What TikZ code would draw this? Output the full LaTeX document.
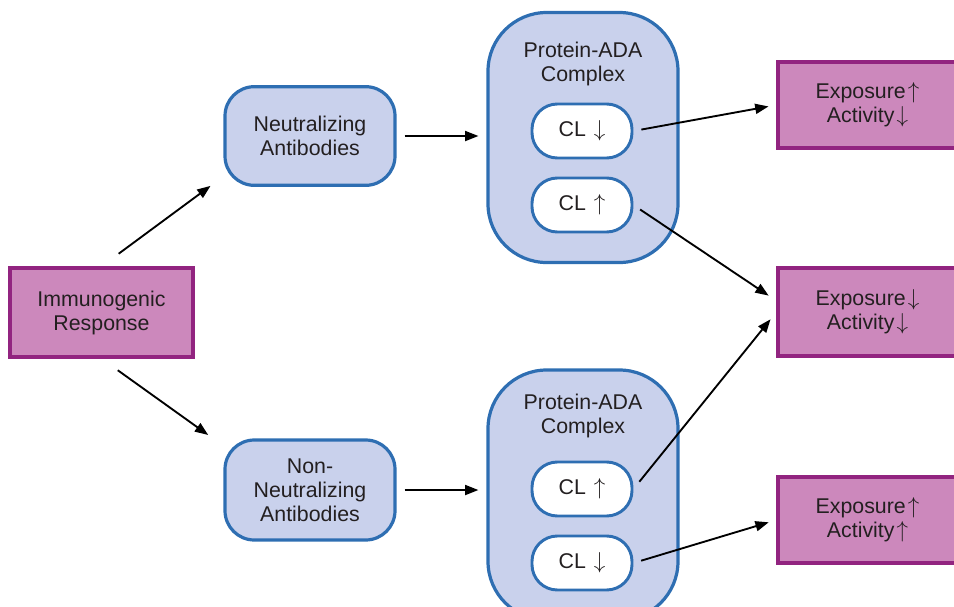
\documentclass[tikz,border=0pt]{standalone}
\usepackage{fontspec}
\setmainfont{Liberation Sans}
\usetikzlibrary{arrows.meta}

\definecolor{pinkfill}{RGB}{204,136,188}
\definecolor{pinkline}{RGB}{146,36,128}
\definecolor{bluefill}{RGB}{201,209,236}
\definecolor{blueline}{RGB}{46,110,178}
\definecolor{txtgray}{RGB}{35,31,32}

\newcommand{\upar}{\kern1.5pt$\uparrow$}
\newcommand{\dnar}{\kern1.5pt$\downarrow$}

\tikzset{every picture/.style={line width=0.75pt}}

\begin{document}
\begin{tikzpicture}[x=0.75pt,y=0.75pt,yscale=-1,xscale=1,
	txt/.style={text=txtgray,font=\fontsize{16}{18}\selectfont,align=center},
	pinkbox/.style={txt,draw=pinkline,fill=pinkfill,line width=2.4pt,inner sep=0pt},
	abbox/.style={txt,draw=blueline,fill=bluefill,line width=2.4pt,rounded corners=22pt,
		minimum width=127.5pt,minimum height=74pt,inner sep=0pt},
	cxbox/.style={draw=blueline,fill=bluefill,line width=2.4pt,rounded corners=44pt,
		minimum width=142.5pt,minimum height=187.5pt},
	clpill/.style={txt,draw=blueline,fill=white,line width=2.2pt,rounded corners=19pt,
		minimum width=75pt,minimum height=40.5pt,inner sep=0pt},
	arr/.style={draw=black,line width=1.4pt,-{Triangle[length=10pt,width=7.5pt]}}]
	\useasboundingbox (0,0) rectangle (954,607);
	\clip (0,0) rectangle (954,607);
	
	%Shape: Rectangle [immune]
	\node[pinkbox,minimum width=137.25pt,minimum height=66.75pt] (immune) at (101.5,312.5) {Immunogenic\\Response};
	%Shape: Rounded Rect [antibodies]
	\node[abbox] (neut) at (310,136) {Neutralizing\\Antibodies};
	\node[abbox,minimum height=75pt] (nonneut) at (310,490) {Non-\\Neutralizing\\Antibodies};
	
	%Shape: Rounded Rect [complexes]
	\node[cxbox] (topcx) at (583,137.5) {};
	\node[cxbox] (botcx) at (583,495) {};
	% Text Node
	\node[txt,anchor=north,inner sep=0pt] (topttl) at (583,42) {Protein-ADA\\Complex};
	% Text Node
	\node[txt,anchor=north,inner sep=0pt] (botttl) at (583,394) {Protein-ADA\\Complex};
	
	%Shape: Pills
	\node[clpill] (clA) at (582,131) {CL \dnar};
	\node[clpill] (clB) at (582,205) {CL \upar};
	\node[clpill] (clC) at (582,489) {CL \upar};
	\node[clpill] (clD) at (582,563) {CL \dnar};
	
	%Shape: Rectangle [outcomes]
	\node[pinkbox,minimum width=134.25pt,minimum height=64.5pt] (expA) at (867.5,105) {Exposure\upar\\Activity\dnar};
	\node[pinkbox,minimum width=134.25pt,minimum height=66pt] (expB) at (867.5,312) {Exposure\dnar\\Activity\dnar};
	\node[pinkbox,minimum width=134.25pt,minimum height=64.5pt] (expC) at (867.5,520) {Exposure\upar\\Activity\upar};
	
	%Straight Lines
	\draw[arr,shorten <=16pt,shorten >=12pt] (immune.north) -- (neut.205);
	\draw[arr,shorten <=15pt,shorten >=14pt] (immune.south) -- (nonneut.153);
	\draw[arr,shorten <=6pt,shorten >=6pt] (neut.east) -- (neut.east -| topcx.west);
	\draw[arr,shorten <=6pt,shorten >=6pt] (nonneut.east) -- (nonneut.east -| botcx.west);
	\draw[arr,shorten <=6pt,shorten >=6pt] (clA.east) -- (expA.west);
	\draw[arr,shorten <=6pt,shorten >=7pt] (clB.east) -- (expB.173);
	\draw[arr,shorten <=7pt,shorten >=7pt] (clC.east) -- (expB.west);
	\draw[arr,shorten <=6pt,shorten >=6pt] (clD.east) -- (expC.west);
	
\end{tikzpicture}
\end{document}
